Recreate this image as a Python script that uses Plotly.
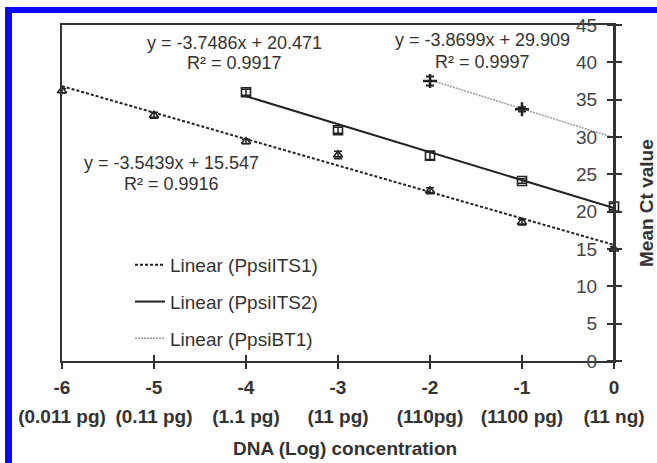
import plotly.graph_objects as go

# ---------------- data ----------------
x_ticks = [-6, -5, -4, -3, -2, -1, 0]
x_tick_units = ["(0.011 pg)", "(0.11 pg)", "(1.1 pg)", "(11 pg)", "(110pg)", "(1100 pg)", "(11 ng)"]
y_ticks = [0, 5, 10, 15, 20, 25, 30, 35, 40, 45]

its1_x = [-6, -5, -4, -3, -2, -1, 0]
its1_y = [36.2, 32.9, 29.4, 27.6, 22.8, 18.6, 15.0]
its1_err = [0.3, 0.4, 0.3, 0.5, 0.4, 0.4, 0.3]

its2_x = [-4, -3, -2, -1, 0]
its2_y = [36.0, 30.9, 27.5, 24.1, 20.7]
its2_err = [0.4, 0.4, 0.5, 0.3, 0.4]

bt1_x = [-2, -1]
bt1_y = [37.5, 33.7]
bt1_err = [0.6, 0.3]

series_names = ["PpsiITS1", "PpsiITS2", "PpsiBT1"]
fit_slopes = [-3.5439, -3.7486, -3.8699]
fit_intercepts = [15.547, 20.471, 29.909]
fit_r2 = [0.9916, 0.9917, 0.9997]
fit_x_start = [-6, -4, -2]
fit_x_end = [0, 0, 0]

# ---------------- layout helpers ----------------
W, H = 657, 463
L, R, T, B = 62, 614, 25, 361
FONT = "Liberation Sans, Arial, sans-serif"


def px_x(p):
    return (p - L) / (R - L)


def px_y(p):
    return (B - p) / (B - T)


fig = go.Figure()

dark = "#222222"

# trend lines (legend entries)
line_styles = [
    dict(color=dark, width=2, dash="3px,2px"),
    dict(color=dark, width=2),
    dict(color="#9a9a9a", width=1.5, dash="2px,1px"),
]
for i, name in enumerate(series_names):
    xs = [fit_x_start[i], fit_x_end[i]]
    ys = [fit_slopes[i] * v + fit_intercepts[i] for v in xs]
    fig.add_trace(go.Scatter(
        x=xs, y=ys, mode="lines", name=f"Linear ({name})",
        line=line_styles[i], legendgroup=name, cliponaxis=False,
        hoverinfo="skip",
    ))

# data points
fig.add_trace(go.Scatter(
    x=its1_x, y=its1_y, mode="markers", showlegend=False, cliponaxis=False,
    marker=dict(symbol="triangle-up-open", size=8, color=dark, line=dict(width=1.6, color=dark)),
    error_y=dict(type="data", array=its1_err, color=dark, thickness=1.5, width=4),
))
fig.add_trace(go.Scatter(
    x=its2_x, y=its2_y, mode="markers", showlegend=False, cliponaxis=False,
    marker=dict(symbol="square-open", size=9, color=dark, line=dict(width=1.6, color=dark)),
    error_y=dict(type="data", array=its2_err, color=dark, thickness=1.5, width=4),
))
fig.add_trace(go.Scatter(
    x=bt1_x, y=bt1_y, mode="markers", showlegend=False, cliponaxis=False,
    marker=dict(symbol="cross-thin-open", size=10, color=dark, line=dict(width=2.5, color=dark)),
    error_y=dict(type="data", array=bt1_err, color=dark, thickness=2, width=4),
))

# dummy trace to anchor the overlay axes
fig.add_trace(go.Scatter(x=[None], y=[None], xaxis="x2", yaxis="y2", showlegend=False, hoverinfo="skip"))

# equation annotations
eq_pos = [  # (center px x, eq px y, r2 px y)
    (171, 163, 184),
    (234, 43, 63),
    (482, 40, 62),
]
annotations = []
for i in range(3):
    cx, ey, ry = eq_pos[i]
    sign = "+" if fit_intercepts[i] >= 0 else "-"
    annotations.append(dict(
        x=px_x(cx), y=px_y(ey), xref="paper", yref="paper", showarrow=False,
        text=f"y = {fit_slopes[i]:.4f}x {sign} {abs(fit_intercepts[i]):.3f}",
        font=dict(family=FONT, size=18, color="#333333"), xanchor="center", yanchor="middle",
    ))
    annotations.append(dict(
        x=px_x(cx), y=px_y(ry), xref="paper", yref="paper", showarrow=False,
        text=f"R² = {fit_r2[i]:.4f}",
        font=dict(family=FONT, size=18, color="#333333"), xanchor="center", yanchor="middle",
    ))

# axis titles
annotations.append(dict(
    x=px_x(345), y=px_y(448), xref="paper", yref="paper", showarrow=False,
    text="<b>DNA (Log) concentration</b>", font=dict(family=FONT, size=19, color="#333333"),
    xanchor="center", yanchor="middle",
))
annotations.append(dict(
    x=px_x(646), y=px_y(203), xref="paper", yref="paper", showarrow=False, textangle=-90,
    text="<b>Mean Ct value</b>", font=dict(family=FONT, size=19, color="#333333"),
    xanchor="center", yanchor="middle",
))

# blue frame
blue = "#0a0af5"
shapes = [
    dict(type="rect", xref="paper", yref="paper", x0=px_x(5), x1=px_x(12), y0=px_y(H + 5), y1=px_y(8),
         fillcolor=blue, line=dict(width=0), layer="above"),
    dict(type="rect", xref="paper", yref="paper", x0=px_x(5), x1=px_x(W + 5), y0=px_y(13), y1=px_y(7),
         fillcolor=blue, line=dict(width=0), layer="above"),
]

fig.update_layout(
    width=W, height=H,
    margin=dict(l=L, r=W - R, t=T, b=H - B),
    paper_bgcolor="white", plot_bgcolor="white",
    font=dict(family=FONT, color="#333333"),
    xaxis=dict(
        range=[-6, 0], tickmode="array", tickvals=x_ticks, ticktext=[f"<b>{v}</b>" for v in x_ticks],
        ticks="outside", ticklen=6, tickwidth=1.5, tickcolor="#333333",
        ticklabelstandoff=2,
        tickfont=dict(family=FONT, size=19, color="#333333"),
        showline=True, linecolor="#333333", linewidth=2, mirror=True,
        showgrid=False, zeroline=False, automargin=False,
    ),
    xaxis2=dict(
        overlaying="x", matches="x", side="bottom", anchor="y2",
        range=[-6, 0], tickmode="array", tickvals=x_ticks,
        ticktext=[f"<b>{u}</b>" for u in x_tick_units],
        ticks="inside", ticklen=6, tickwidth=1.5, tickcolor="#333333",
        ticklabelstandoff=42,
        tickfont=dict(family=FONT, size=19, color="#333333"),
        showline=False, showgrid=False, zeroline=False, automargin=False,
    ),
    # labelled axis: a left-side axis placed at the right edge, so labels sit inside
    yaxis=dict(
        range=[0, 45], side="left", anchor="free", position=1.0,
        tickmode="array", tickvals=y_ticks,
        ticks="outside", ticklen=6, tickwidth=1.5, tickcolor="#333333",
        ticklabelstandoff=6,
        tickfont=dict(family=FONT, size=19, color="#444444"),
        showline=True, linecolor="#333333", linewidth=2,
        showgrid=False, zeroline=False, automargin=False,
    ),
    yaxis2=dict(
        overlaying="y", matches="y", side="right", anchor="x",
        range=[0, 45], tickmode="array", tickvals=y_ticks,
        ticks="outside", ticklen=6, tickwidth=1.5, tickcolor="#333333",
        showticklabels=False, showline=True, linecolor="#333333", linewidth=2, mirror=True,
        showgrid=False, zeroline=False, automargin=False,
    ),
    legend=dict(
        x=px_x(130), y=px_y(246), xanchor="left", yanchor="top",
        bgcolor="rgba(0,0,0,0)", font=dict(family=FONT, size=19, color="#333333"),
        traceorder="grouped", tracegroupgap=9,
    ),
    annotations=annotations,
    shapes=shapes,
)

fig.write_html(
    "out.html",
    config={"displayModeBar": False},
    post_script="document.body.style.margin='0';document.body.style.overflow='hidden';",
)
